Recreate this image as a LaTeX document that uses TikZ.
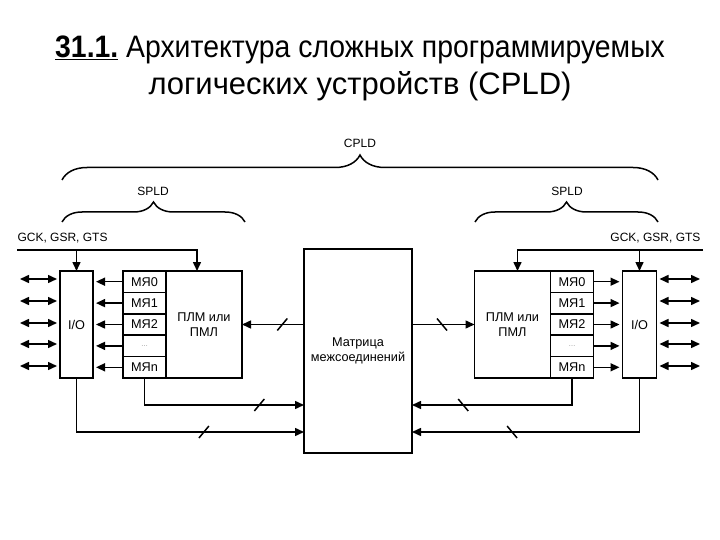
\documentclass[tikz,border=0pt]{standalone}
\usepackage{fontspec}
\setmainfont{Liberation Sans}
\usetikzlibrary{arrows.meta,positioning,calc,decorations.pathreplacing}
\tikzset{
    wire/.style={line width=1.5pt},
    arr/.style={wire, -{Triangle[length=9pt,width=8pt]}},
    biarr/.style={wire, {Triangle[length=9pt,width=8pt]}-{Triangle[length=9pt,width=8pt]}},
    blk/.style={rectangle, draw, line width=1.5pt, outer sep=0pt, inner sep=0pt, align=center, font=\fontsize{12.7}{15.5}\selectfont},
    cell/.style={blk, minimum width=43pt, minimum height=21.4pt},
    lbl/.style={font=\fontsize{12}{15}\selectfont},
    brc/.style={wire, decorate, decoration={brace, amplitude=#1}},
    busL/.pic={\draw[wire] (-5,6) -- (5,-6);},
    busR/.pic={\draw[wire] (-5,-6) -- (5,6);},
}

\begin{document}
\begin{tikzpicture}[x=1pt, y=-1pt]
    \useasboundingbox (0,0) rectangle (720,540);

    % title
    \node[align=center, font=\fontsize{31}{37}\selectfont] (title) at (360,68)
        {\scalebox{0.915}[1]{\underline{\textbf{31.1.}} Архитектура сложных программируемых}\\
         логических устройств (CPLD)};

    % braces
    \draw[brc=25pt] (62,180) -- (658,180);
    \node[lbl] (cpld) at (360,143) {CPLD};
    \draw[brc=20pt] (62,222) -- (245,222);
    \node[lbl] (spldL) at (153,191) {SPLD};
    \draw[brc=20pt] (475,222) -- (658,222);
    \node[lbl] (spldR) at (567,191) {SPLD};

    % interconnect matrix
    \node[blk, minimum width=108pt, minimum height=204pt] (mx) at (358,351) {Матрица\\межсоединений};

    % left SPLD
    \node[cell] (mL1) at (144.5,281.7) {МЯ0};
    \node[cell, below=0pt of mL1] (mL2) {МЯ1};
    \node[cell, below=0pt of mL2] (mL3) {МЯ2};
    \node[cell, below=0pt of mL3] (mL4) {\color{gray}\scriptsize\dots};
    \node[cell, below=0pt of mL4] (mL5) {МЯn};
    \node[blk, minimum width=76pt, minimum height=107pt, anchor=north west] (plmL) at (mL1.north east) {ПЛМ или\\ПМЛ};
    \node[blk, minimum width=33pt, minimum height=107pt, anchor=north east] (ioL) at ([xshift=-30pt]mL1.north west) {I/O};

    % right SPLD
    \node[cell] (mR1) at (572,281.7) {МЯ0};
    \node[cell, below=0pt of mR1] (mR2) {МЯ1};
    \node[cell, below=0pt of mR2] (mR3) {МЯ2};
    \node[cell, below=0pt of mR3] (mR4) {\color{gray}\scriptsize\dots};
    \node[cell, below=0pt of mR4] (mR5) {МЯn};
    \node[blk, minimum width=76pt, minimum height=107pt, anchor=north east] (plmR) at (mR1.north west) {ПЛМ или\\ПМЛ};
    \node[blk, minimum width=34pt, minimum height=107pt, anchor=north west] (ioR) at ([xshift=29pt]mR1.north east) {I/O};

    % global signals
    \node[lbl, anchor=west] (gckL) at (14,238) {GCK, GSR, GTS};
    \node[lbl, anchor=east] (gckR) at (704,238) {GCK, GSR, GTS};
    \coordinate (gL) at (17,250);
    \coordinate (gR) at (703,250);
    \draw[arr] (gL) -| ([xshift=-7pt]plmL.north);
    \draw[arr] (ioL.north |- gL) -- (ioL.north);
    \draw[arr] (gR) -| ([xshift=5pt]plmR.north);
    \draw[arr] (ioR.north |- gR) -- (ioR.north);

    % pins
    \foreach \y [count=\i] in {279,301,323,344,366} {
        \coordinate (pL\i) at (20,\y);
        \coordinate (pR\i) at (700,\y);
        \draw[biarr] (pL\i) -- ($(ioL.west |- pL\i)+(-3,0)$);
        \draw[biarr] ($(ioR.east |- pR\i)+(3,0)$) -- (pR\i);
    }
    \foreach \i in {1,...,5} {
        \draw[arr] (mL\i.west) -- ($(ioL.east |- mL\i.west)+(3,0)$);
        \draw[arr] (mR\i.east) -- ($(ioR.west |- mR\i.east)+(-3,0)$);
    }

    % buses to / from matrix
    \coordinate (yb1) at (0,405);
    \coordinate (yb2) at (0,432);
    \draw[arr] (mx.west |- plmL.east) -- (plmL.east) coordinate[pos=0.35] (s1);
    \draw[arr] (mx.east |- plmR.west) -- (plmR.west) coordinate[pos=0.48] (s2);
    \draw[arr] (mL5.south) |- (mx.west |- yb1) coordinate[pos=0.86] (s3);
    \draw[arr] (ioL.south) |- (mx.west |- yb2) coordinate[pos=0.78] (s4);
    \draw[arr] (mR5.south) |- (mx.east |- yb1) coordinate[pos=0.84] (s5);
    \draw[arr] (ioR.south) |- (mx.east |- yb2) coordinate[pos=0.78] (s6);
    \foreach \s in {s1,s3,s4} \pic at (\s) {busL};
    \foreach \s in {s2,s5,s6} \pic at (\s) {busR};
\end{tikzpicture}
\end{document}
